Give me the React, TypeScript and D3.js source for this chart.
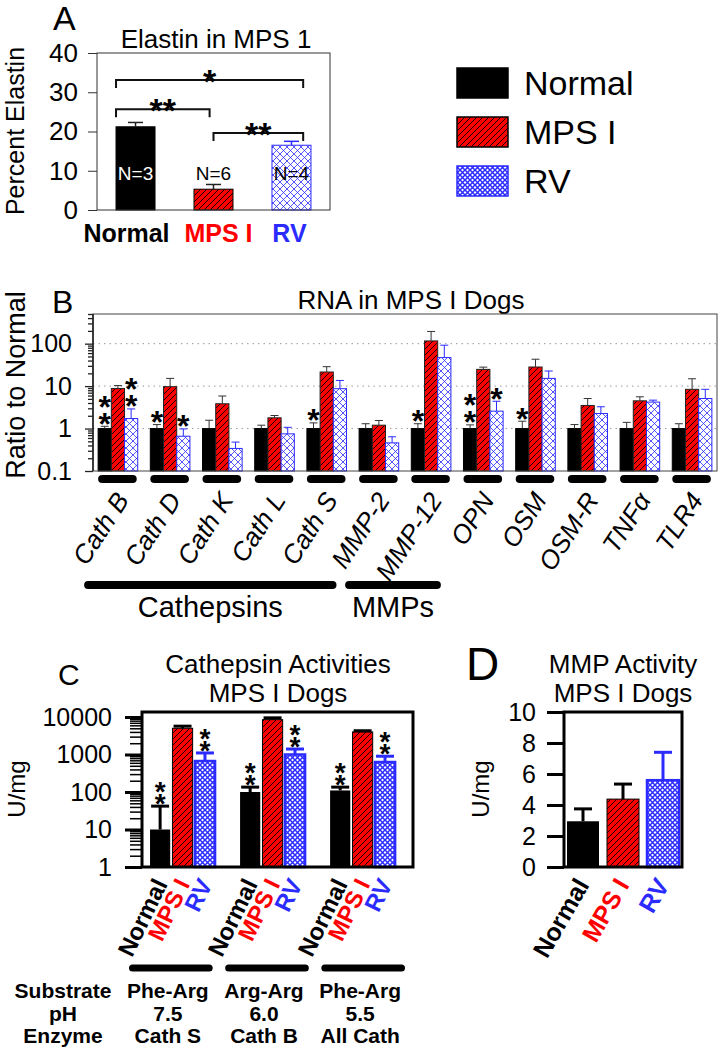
import React, { useEffect, useRef } from 'react';
import * as d3 from 'd3';

const FONT = '"Liberation Sans", Arial, Helvetica, sans-serif';
const RED = '#ff0000';
const BLUE = '#2b2bff';

const groupNames = ['Normal', 'MPS I', 'RV'];
const groupColors = ['#000000', RED, BLUE];

// A - percent elastin
const elastinMean = [21.2, 5.3, 16.5];
const elastinErr = [1.1, 1.2, 1.0];
const elastinN = ['N=3', 'N=6', 'N=4'];
const elastinTicks = [0, 10, 20, 30, 40];
// [left bar, right bar, bracket level (percent), stars]
const elastinSig: [number, number, number, string][] = [
  [0, 2, 33.1, '*'],
  [0, 1, 25.7, '**'],
  [1, 2, 19.6, '**'],
];

// B - RNA ratio to normal
const genes = ['Cath B', 'Cath D', 'Cath K', 'Cath L', 'Cath S', 'MMP-2', 'MMP-12', 'OPN', 'OSM', 'OSM-R', 'TNF\u03b1', 'TLR4'];
const rnaNormal = [1, 1, 1, 1, 1, 1, 1, 1, 1, 1, 1, 1];
const rnaNormalErr = [0.13, 0.24, 0.57, 0.2, 0.36, 0.3, 0.3, 0.22, 0.49, 0.24, 0.4, 0.3];
const rnaMps = [8.8, 9.7, 3.84, 1.79, 21.5, 1.2, 116, 24.8, 28.2, 3.5, 4.5, 8.4];
const rnaMpsErr = [1.5, 5.5, 2.0, 0.24, 7.2, 0.35, 78, 3.2, 14.8, 1.6, 1.1, 6.5];
const rnaRv = [1.72, 0.66, 0.34, 0.75, 8.7, 0.46, 47, 2.57, 15.2, 2.26, 4.2, 5.1];
const rnaRvErr = [1.18, 0.32, 0.14, 0.32, 4.9, 0.18, 45, 1.83, 7.5, 1.0, 0.47, 3.3];
// [gene, group index, number of stars]
const rnaStars: [string, number, number][] = [
  ['Cath B', 0, 2], ['Cath B', 2, 2], ['Cath D', 0, 1], ['Cath D', 2, 1],
  ['Cath S', 0, 1], ['MMP-12', 0, 1], ['OPN', 0, 2], ['OPN', 2, 1], ['OSM', 0, 1],
];
const geneFamilies: [string, string, string][] = [
  ['Cathepsins', 'Cath B', 'Cath S'],
  ['MMPs', 'MMP-2', 'MMP-12'],
];

// C - cathepsin activities (U/mg)
const substrates = ['Phe-Arg', 'Arg-Arg', 'Phe-Arg'];
const assayPh = ['7.5', '6.0', '5.5'];
const enzymes = ['Cath S', 'Cath B', 'All Cath'];
const cathNormal = [10, 100, 110];
const cathNormalErr = [32, 35, 25];
const cathMps = [5000, 8500, 4000];
const cathMpsErr = [700, 1000, 300];
const cathRv = [670, 1000, 630];
const cathRvErr = [430, 400, 270];
const cathStarGroups = [0, 2];
const cathTicks = [1, 10, 100, 1000, 10000];

// D - MMP activity (U/mg)
const mmpMean = [2.95, 4.38, 5.6];
const mmpErr = [0.8, 0.97, 1.8];
const mmpTicks = [0, 2, 4, 6, 8, 10];


function addPatterns(defs: any) {
  const hatch = defs.append('pattern').attr('id', 'hatch')
    .attr('patternUnits', 'userSpaceOnUse').attr('width', 6).attr('height', 6);
  hatch.append('rect').attr('width', 6).attr('height', 6).attr('fill', RED);
  hatch.append('path').attr('d', 'M-1,1L1,-1M0,6L6,0M5,7L7,5')
    .attr('stroke', '#000').attr('stroke-width', 0.9);

  [['crossLight', 7, 0.8], ['crossDense', 5, 1.5]].forEach(([id, s, w]: any) => {
    const p = defs.append('pattern').attr('id', id)
      .attr('patternUnits', 'userSpaceOnUse').attr('width', s).attr('height', s);
    p.append('rect').attr('width', s).attr('height', s).attr('fill', '#fff');
    p.append('path').attr('d', `M0,0L${s},${s}M${s},0L0,${s}`)
      .attr('stroke', BLUE).attr('stroke-width', w);
  });
}

// a column of asterisks drawn as one text, lowest one centred on cy
function stars(g: any, x: number, cy: number, count: number, size: number, gap: number) {
  const t = g.append('text')
    .attr('text-anchor', 'middle')
    .attr('font-size', size)
    .attr('font-weight', 'bold');
  for (let k = count - 1; k >= 0; k--) {
    t.append('tspan').attr('x', x).attr('y', cy - k * gap + size * 0.58).text('*');
  }
}

function errorBar(g: any, cx: number, y0: number, y1: number, capW: number, color: string, width: number) {
  g.append('line').attr('x1', cx).attr('x2', cx).attr('y1', y0).attr('y2', y1)
    .attr('stroke', color).attr('stroke-width', width);
  g.append('line').attr('x1', cx - capW / 2).attr('x2', cx + capW / 2).attr('y1', y1).attr('y2', y1)
    .attr('stroke', color).attr('stroke-width', width);
}

function styleAxis(axis: any, size: number) {
  axis.attr('font-size', size).attr('font-family', FONT);
  axis.select('.domain').remove();
  axis.selectAll('text').attr('fill', '#000');
}


function drawElastin(svg: any) {
  const m = { left: 97, right: 330, top: 53, bottom: 210 };
  const y = d3.scaleLinear().domain([0, 40]).range([m.bottom, m.top]);
  const x = d3.scaleBand().domain(groupNames).range([m.left, m.right]).paddingInner(0.5).paddingOuter(0.244);
  const bw = x.bandwidth();
  const g = svg.append('g');

  g.append('text').attr('x', 53).attr('y', 30).attr('font-size', 34).text('A');
  g.append('text').attr('x', 216).attr('y', 48).attr('text-anchor', 'middle')
    .attr('font-size', 26).text('Elastin in MPS 1');
  g.append('text').attr('transform', 'translate(24,131) rotate(-90)')
    .attr('text-anchor', 'middle').attr('font-size', 25).text('Percent Elastin');

  const fills = ['#000', 'url(#hatch)', 'url(#crossLight)'];
  const outlines = ['#000', '#000', BLUE];
  g.selectAll('rect.bar').data(elastinMean).join('rect')
    .attr('class', 'bar')
    .attr('x', (d: number, i: number) => x(groupNames[i]))
    .attr('y', (d: number) => y(d))
    .attr('width', bw)
    .attr('height', (d: number) => m.bottom - y(d))
    .attr('fill', (d: number, i: number) => fills[i])
    .attr('stroke', (d: number, i: number) => outlines[i])
    .attr('stroke-width', 1);

  elastinMean.forEach((v, i) => {
    const cx = x(groupNames[i])! + bw / 2;
    errorBar(g, cx, y(v), y(v + elastinErr[i]), 15, i === 2 ? BLUE : '#222', 1.5);
    g.append('text').attr('x', cx).attr('y', m.bottom - 30)
      .attr('text-anchor', 'middle').attr('font-size', 19)
      .attr('fill', i === 0 ? '#fff' : '#000').text(elastinN[i]);
  });

  elastinSig.forEach(([i, j, level, s]) => {
    const x1 = x(groupNames[i])! + i * bw * 0.5;
    const x2 = x(groupNames[j])! + j * bw * 0.4;
    const yy = y(level);
    g.append('path').attr('d', `M${x1},${yy + 8}V${yy}H${x2}V${yy + 8}`)
      .attr('fill', 'none').attr('stroke', '#111').attr('stroke-width', 2);
    g.append('text').attr('x', (x1 + x2) / 2).attr('y', yy - 7 + 34 * 0.58)
      .attr('text-anchor', 'middle').attr('font-size', 34).attr('font-weight', 'bold').text(s);
  });

  const axis = g.append('g').attr('transform', `translate(${m.left},0)`)
    .call(d3.axisLeft(y).tickValues(elastinTicks).tickSize(9).tickSizeOuter(0).tickPadding(10));
  styleAxis(axis, 26);
  axis.selectAll('line').attr('stroke', '#333');

  g.append('rect').attr('x', m.left).attr('y', m.top)
    .attr('width', m.right - m.left).attr('height', m.bottom - m.top)
    .attr('fill', 'none').attr('stroke', '#333').attr('stroke-width', 1);

  // category labels sit slightly off the bar centres in the figure
  const labelShift = [-9, 5, -2];
  groupNames.forEach((name, i) => {
    g.append('text').attr('x', x(name)! + bw / 2 + labelShift[i]).attr('y', 242)
      .attr('text-anchor', 'middle').attr('font-size', 25).attr('font-weight', 'bold')
      .attr('fill', groupColors[i]).text(name);
  });
}


function drawLegend(svg: any) {
  const g = svg.append('g');
  const fills = ['#000', 'url(#hatch)', 'url(#crossDense)'];
  groupNames.forEach((name, i) => {
    const top = 68 + i * 49;
    g.append('rect').attr('x', 457).attr('y', top).attr('width', 51).attr('height', 30)
      .attr('fill', fills[i]).attr('stroke', i === 2 ? BLUE : '#000').attr('stroke-width', 1.5);
    g.append('text').attr('x', 524).attr('y', top + 27).attr('font-size', 34).text(name);
  });
}


function drawRna(svg: any) {
  const m = { left: 93, right: 717, top: 314, bottom: 471 };
  const y = d3.scaleLog().domain([0.1, 500]).range([m.bottom, m.top]);
  const x = d3.scaleBand().domain(genes).range([m.left, m.right]).paddingInner(0.241).paddingOuter(0.098);
  const bw = x.bandwidth();
  const xs = d3.scaleBand().domain(groupNames).range([0, bw]);
  const g = svg.append('g');

  g.append('text').attr('x', 52).attr('y', 313).attr('font-size', 32).text('B');
  g.append('text').attr('x', 411).attr('y', 309).attr('text-anchor', 'middle')
    .attr('font-size', 26).text('RNA in MPS I Dogs');
  g.append('text').attr('transform', 'translate(25,385) rotate(-90)')
    .attr('text-anchor', 'middle').attr('font-size', 27).text('Ratio to Normal');

  // dotted grid
  g.selectAll('line.grid').data([1, 10, 100]).join('line')
    .attr('class', 'grid')
    .attr('x1', m.left).attr('x2', m.right)
    .attr('y1', (d: number) => y(d)).attr('y2', (d: number) => y(d))
    .attr('stroke', '#999').attr('stroke-width', 1).attr('stroke-dasharray', '1.5,4');

  const series = [rnaNormal, rnaMps, rnaRv];
  const errs = [rnaNormalErr, rnaMpsErr, rnaRvErr];
  const fills = ['#000', 'url(#hatch)', 'url(#crossLight)'];
  const outlines = ['#000', '#222', BLUE];
  const rows = genes.flatMap((gene, gi) => groupNames.map((grp, k) => ({
    gene, grp, k, v: series[k][gi], e: errs[k][gi],
  })));

  rows.forEach(r => {
    const bx = x(r.gene)! + xs(r.grp)!;
    g.append('rect').attr('x', bx).attr('y', y(r.v))
      .attr('width', xs.bandwidth()).attr('height', m.bottom - y(r.v))
      .attr('fill', fills[r.k]).attr('stroke', outlines[r.k]).attr('stroke-width', 1);
    errorBar(g, bx + xs.bandwidth() / 2, y(r.v), y(r.v + r.e), 8, r.k === 2 ? BLUE : '#333', 1);
  });

  rnaStars.forEach(([gene, k, n]) => {
    const gi = genes.indexOf(gene);
    const top = series[k][gi] + errs[k][gi];
    const cx = x(gene)! + xs(groupNames[k])! + xs.bandwidth() / 2;
    stars(g, cx, y(top) - 10, n, 32, 17);
  });

  // axes
  const all = y.ticks();
  const isMajor = (v: number) => Math.abs(Math.log10(v) - Math.round(Math.log10(v))) < 1e-9;
  const minorAxis = g.append('g').attr('transform', `translate(${m.left},0)`)
    .call(d3.axisLeft(y).tickValues(all.filter((v: number) => !isMajor(v))).tickSize(5).tickFormat(() => ''));
  styleAxis(minorAxis, 25);
  const majorAxis = g.append('g').attr('transform', `translate(${m.left},0)`)
    .call(d3.axisLeft(y).tickValues(all.filter(isMajor)).tickSize(8).tickPadding(13).tickFormat(d3.format('~g')));
  styleAxis(majorAxis, 25);
  g.selectAll('.tick line').attr('stroke', '#222').attr('stroke-width', 1.3);

  g.append('rect').attr('x', m.left).attr('y', m.top)
    .attr('width', m.right - m.left).attr('height', m.bottom - m.top)
    .attr('fill', 'none').attr('stroke', '#444').attr('stroke-width', 1);
  g.append('line').attr('x1', m.left).attr('x2', m.left).attr('y1', m.top).attr('y2', m.bottom)
    .attr('stroke', '#222').attr('stroke-width', 1.6);

  // gene underlines and labels
  genes.forEach(gene => {
    const x0 = x(gene)!;
    g.append('line').attr('x1', x0 + 4).attr('x2', x0 + bw - 5).attr('y1', 479).attr('y2', 479)
      .attr('stroke', '#000').attr('stroke-width', 8).attr('stroke-linecap', 'round');
    g.append('text').attr('transform', `translate(${x0 + bw / 2 + 12},500) rotate(-57)`)
      .attr('text-anchor', 'end').attr('font-size', 26).attr('font-style', 'italic').text(gene);
  });

  geneFamilies.forEach(([label, first, last]) => {
    const x1 = x(first)! - 14 + 4;
    const x2 = x(last)! + bw - 10 - 4;
    g.append('line').attr('x1', x1).attr('x2', x2).attr('y1', 585).attr('y2', 585)
      .attr('stroke', '#000').attr('stroke-width', 8).attr('stroke-linecap', 'round');
    g.append('text').attr('x', (x1 + x2) / 2).attr('y', 617).attr('text-anchor', 'middle')
      .attr('font-size', 29).text(label);
  });
}


function drawCathepsin(svg: any) {
  const m = { left: 142, right: 413, top: 712, bottom: 867 };
  const y = d3.scaleLog().domain([1, 13600]).range([m.bottom, m.top]);
  const x = d3.scaleBand<number>().domain(d3.range(3)).range([m.left, m.right])
    .paddingInner(0.278).paddingOuter(0.144).align(0.31);
  const xs = d3.scaleBand().domain(groupNames).range([0, x.bandwidth()]).paddingInner(0.1);
  const g = svg.append('g');

  g.append('text').attr('x', 58).attr('y', 685).attr('font-size', 30).text('C');
  g.append('text').attr('x', 278).attr('y', 673).attr('text-anchor', 'middle')
    .attr('font-size', 26).text('Cathepsin Activities');
  g.append('text').attr('x', 278).attr('y', 702).attr('text-anchor', 'middle')
    .attr('font-size', 26).text('MPS I Dogs');
  g.append('text').attr('transform', 'translate(25,789) rotate(-90)')
    .attr('text-anchor', 'middle').attr('font-size', 24).text('U/mg');

  const series = [cathNormal, cathMps, cathRv];
  const errs = [cathNormalErr, cathMpsErr, cathRvErr];
  const fills = ['#000', 'url(#hatch)', 'url(#crossDense)'];
  const sw = xs.bandwidth();

  d3.range(3).forEach(ai => {
    groupNames.forEach((grp, k) => {
      const v = series[k][ai];
      const bx = x(ai)! + xs(grp)!;
      const rect = g.append('rect').attr('x', bx).attr('y', y(v))
        .attr('width', sw).attr('height', m.bottom - y(v)).attr('fill', fills[k]);
      if (k === 1) rect.attr('stroke', '#000').attr('stroke-width', 1);
      if (k === 2) rect.attr('stroke', BLUE).attr('stroke-width', 2.5);
      errorBar(g, bx + sw / 2, y(v), y(v + errs[k][ai]), 18, k === 2 ? BLUE : '#000', 3);
      if (cathStarGroups.includes(k)) {
        stars(g, bx + sw / 2, y(v + errs[k][ai]) - 9, 2, 28, 12);
      }
      g.append('text').attr('transform', `translate(${bx + sw / 2 + 8},884) rotate(-64)`)
        .attr('text-anchor', 'end').attr('font-size', 24).attr('font-weight', 'bold')
        .attr('fill', groupColors[k]).text(grp);
    });
  });

  const all = y.ticks();
  const isMajor = (v: number) => cathTicks.includes(v);
  const minorAxis = g.append('g').attr('transform', `translate(${m.left},0)`)
    .call(d3.axisLeft(y).tickValues(all.filter((v: number) => !isMajor(v))).tickSize(12).tickFormat(() => ''));
  styleAxis(minorAxis, 25);
  minorAxis.selectAll('line').attr('stroke', '#000').attr('stroke-width', 1.5);
  const majorAxis = g.append('g').attr('transform', `translate(${m.left},0)`)
    .call(d3.axisLeft(y).tickValues(cathTicks).tickSize(17).tickPadding(13).tickFormat(d3.format('d')));
  styleAxis(majorAxis, 25);
  majorAxis.selectAll('line').attr('stroke', '#000').attr('stroke-width', 3);

  g.append('rect').attr('x', m.left).attr('y', m.top)
    .attr('width', m.right - m.left).attr('height', m.bottom - m.top)
    .attr('fill', 'none').attr('stroke', '#000').attr('stroke-width', 3);

  // assay conditions table
  const tx = d3.scaleBand<number>().domain(d3.range(3)).range([129, 405]).paddingInner(0.13);
  const rowLabels = ['Substrate', 'pH', 'Enzyme'];
  const rowValues = [substrates, assayPh, enzymes];
  d3.range(3).forEach(ai => {
    g.append('line').attr('x1', tx(ai)! + 3.5).attr('x2', tx(ai)! + tx.bandwidth() - 3.5)
      .attr('y1', 968).attr('y2', 968)
      .attr('stroke', '#000').attr('stroke-width', 7).attr('stroke-linecap', 'round');
  });
  rowLabels.forEach((label, r) => {
    const by = 998 + r * 22.5;
    g.append('text').attr('x', 63).attr('y', by).attr('text-anchor', 'middle')
      .attr('font-size', 21).attr('font-weight', 'bold').text(label);
    rowValues[r].forEach((val, ai) => {
      g.append('text').attr('x', tx(ai)! + tx.bandwidth() / 2 - 3).attr('y', by)
        .attr('text-anchor', 'middle').attr('font-size', 21).attr('font-weight', 'bold').text(val);
    });
  });
}


function drawMmp(svg: any) {
  const m = { left: 564, right: 682, top: 712, bottom: 867 };
  const y = d3.scaleLinear().domain([0, 10]).range([m.bottom, m.top]);
  const x = d3.scaleBand().domain(groupNames).range([m.left, m.right]).paddingInner(0.2).paddingOuter(0.075);
  const bw = x.bandwidth();
  const g = svg.append('g');

  g.append('text').attr('x', 466).attr('y', 680).attr('font-size', 46).text('D');
  g.append('text').attr('x', 623).attr('y', 673).attr('text-anchor', 'middle')
    .attr('font-size', 26).text('MMP Activity');
  g.append('text').attr('x', 623).attr('y', 702).attr('text-anchor', 'middle')
    .attr('font-size', 26).text('MPS I Dogs');
  g.append('text').attr('transform', 'translate(489,789) rotate(-90)')
    .attr('text-anchor', 'middle').attr('font-size', 24).text('U/mg');

  const fills = ['#000', 'url(#hatch)', 'url(#crossDense)'];
  mmpMean.forEach((v, k) => {
    const bx = x(groupNames[k])!;
    const rect = g.append('rect').attr('x', bx).attr('y', y(v))
      .attr('width', bw).attr('height', m.bottom - y(v)).attr('fill', fills[k]);
    if (k === 1) rect.attr('stroke', '#000').attr('stroke-width', 1);
    if (k === 2) rect.attr('stroke', BLUE).attr('stroke-width', 2.5);
    errorBar(g, bx + bw / 2, y(v), y(v + mmpErr[k]), 18, k === 2 ? BLUE : '#000', 3);
    g.append('text').attr('transform', `translate(${bx + bw / 2 + 7},885) rotate(-60)`)
      .attr('text-anchor', 'end').attr('font-size', 25).attr('font-weight', 'bold')
      .attr('fill', groupColors[k]).text(groupNames[k]);
  });

  const axis = g.append('g').attr('transform', `translate(${m.left},0)`)
    .call(d3.axisLeft(y).tickValues(mmpTicks).tickSize(17).tickPadding(11));
  styleAxis(axis, 25);
  axis.selectAll('line').attr('stroke', '#000').attr('stroke-width', 3);

  g.append('rect').attr('x', m.left).attr('y', m.top)
    .attr('width', m.right - m.left).attr('height', m.bottom - m.top)
    .attr('fill', 'none').attr('stroke', '#000').attr('stroke-width', 3);
}


export default function App() {
  const ref = useRef<SVGSVGElement>(null);

  useEffect(() => {
    const svg = d3.select(ref.current);
    svg.selectAll('*').remove();
    addPatterns(svg.append('defs'));
    drawElastin(svg);
    drawLegend(svg);
    drawRna(svg);
    drawCathepsin(svg);
    drawMmp(svg);
  }, []);

  return (
    <svg
      ref={ref}
      width={719}
      height={1050}
      fontFamily={FONT}
      style={{ position: 'absolute', left: 0, top: 0, background: '#fff' }}
    />
  );
}
